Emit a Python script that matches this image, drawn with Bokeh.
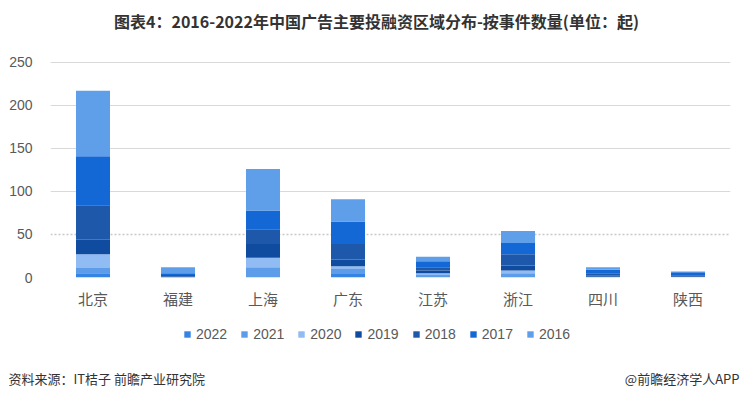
from bokeh.plotting import figure
from bokeh.layouts import column
from bokeh.models import (ColumnDataSource, FactorRange, Legend, LegendItem, Label,
                          FixedTicker, Grid, Range1d)
from bokeh.embed import file_html
from bokeh.resources import INLINE

regions = ["北京", "福建", "上海", "广东", "江苏", "浙江", "四川", "陕西"]
years = ["2022", "2021", "2020", "2019", "2018", "2017", "2016"]
v2022 = [5, 0, 0, 4, 0, 0, 0, 0]
v2021 = [6, 0, 12, 6, 3, 5, 1, 0]
v2020 = [16, 0, 11, 3, 2, 3, 0, 1]
v2019 = [17, 1, 16, 8, 3, 6, 1, 1]
v2018 = [40, 2, 17, 18, 4, 13, 3, 1]
v2017 = [57, 2, 22, 26, 7, 13, 4, 3]
v2016 = [76, 7, 48, 26, 5, 14, 3, 1]
colors = ["#3584e4", "#5d9ce9", "#90bbf3", "#0f4b9e", "#1e58aa", "#1468d6", "#5f9fe9"]
y_ticks = [0, 50, 100, 150, 200, 250]

data = dict(region=regions)
for y, vals in zip(years, [v2022, v2021, v2020, v2019, v2018, v2017, v2016]):
    data[y] = vals
src = ColumnDataSource(data)


def strip(h):
    f = figure(width=740, height=h, x_range=FactorRange(*regions), y_range=Range1d(-2, -1),
               x_axis_type=None, y_axis_type=None, output_backend="svg",
               toolbar_location=None, min_border=0)
    f.outline_line_color = None
    f.grid.visible = False
    f.frame_align = False
    return f


# title strip
p0 = strip(40)
p0.add_layout(Label(x=376, y=20, x_units="screen", y_units="screen",
                    text="图表4：2016-2022年中国广告主要投融资区域分布-按事件数量(单位：起)",
                    text_font="Noto Sans CJK SC", text_font_style="bold",
                    text_font_size="16px", text_color="#333333",
                    text_align="center", text_baseline="middle"))

# main chart
p = figure(width=740, height=278, x_range=FactorRange(*regions, range_padding=0),
           y_range=Range1d(0, 265), output_backend="svg", toolbar_location=None,
           min_border_left=50, min_border_right=10, min_border_top=9, min_border_bottom=41)
p.outline_line_color = None
p.frame_align = False

p.vbar_stack(years, x="region", width=0.4, source=src, color=colors, line_width=0)

p.yaxis.ticker = FixedTicker(ticks=y_ticks)
p.ygrid.ticker = FixedTicker(ticks=[100, 150, 200, 250])
p.ygrid.grid_line_color = "#d9d9d9"
p.xgrid.grid_line_color = None
g2 = Grid(dimension=1, ticker=FixedTicker(ticks=[0, 50]), grid_line_color="#c8c8c8",
          grid_line_dash="2 2", grid_line_width=1.3)
p.add_layout(g2)

for ax in (p.xaxis, p.yaxis):
    ax.axis_line_color = None
    ax.major_tick_line_color = None
    ax.minor_tick_line_color = None
    ax.major_label_text_color = "#595959"
p.xaxis.major_label_text_font = "Noto Sans CJK SC"
p.xaxis.major_label_text_font_size = "15px"
p.xaxis.major_label_standoff = 4
p.yaxis.major_label_text_font = "Liberation Sans"
p.yaxis.major_label_text_font_size = "14px"
p.yaxis.major_label_standoff = 12

# legend + footer strip (legend swatches come from the same data; zero-width, out of view)
p2 = strip(72)
lrs = p2.vbar_stack(years, x="region", width=0, source=src, color=colors,
                    line_width=0, line_alpha=0)
items = [LegendItem(label=y, renderers=[r]) for y, r in zip(years, lrs)]
legend = Legend(items=items, orientation="horizontal", location=(183, 48),
                glyph_width=8, glyph_height=8, label_standoff=5, spacing=13,
                padding=0, margin=0, border_line_color=None, background_fill_alpha=0,
                label_text_font="Liberation Sans", label_text_font_size="14px",
                label_text_color="#595959", label_height=17)
p2.add_layout(legend, "center")

p2.add_layout(Label(x=8, y=12, x_units="screen", y_units="screen",
                    text="资料来源：IT桔子 前瞻产业研究院", text_font="Noto Sans CJK SC",
                    text_font_size="13px", text_color="#333333", text_baseline="middle"))
p2.add_layout(Label(x=739, y=12, x_units="screen", y_units="screen",
                    text="@前瞻经济学人APP", text_font="Noto Sans CJK SC",
                    text_font_size="13px", text_color="#333333", text_align="right",
                    text_baseline="middle"))

layout = column(p0, p, p2, spacing=0)
open("out.html", "w").write(file_html(layout, INLINE))
